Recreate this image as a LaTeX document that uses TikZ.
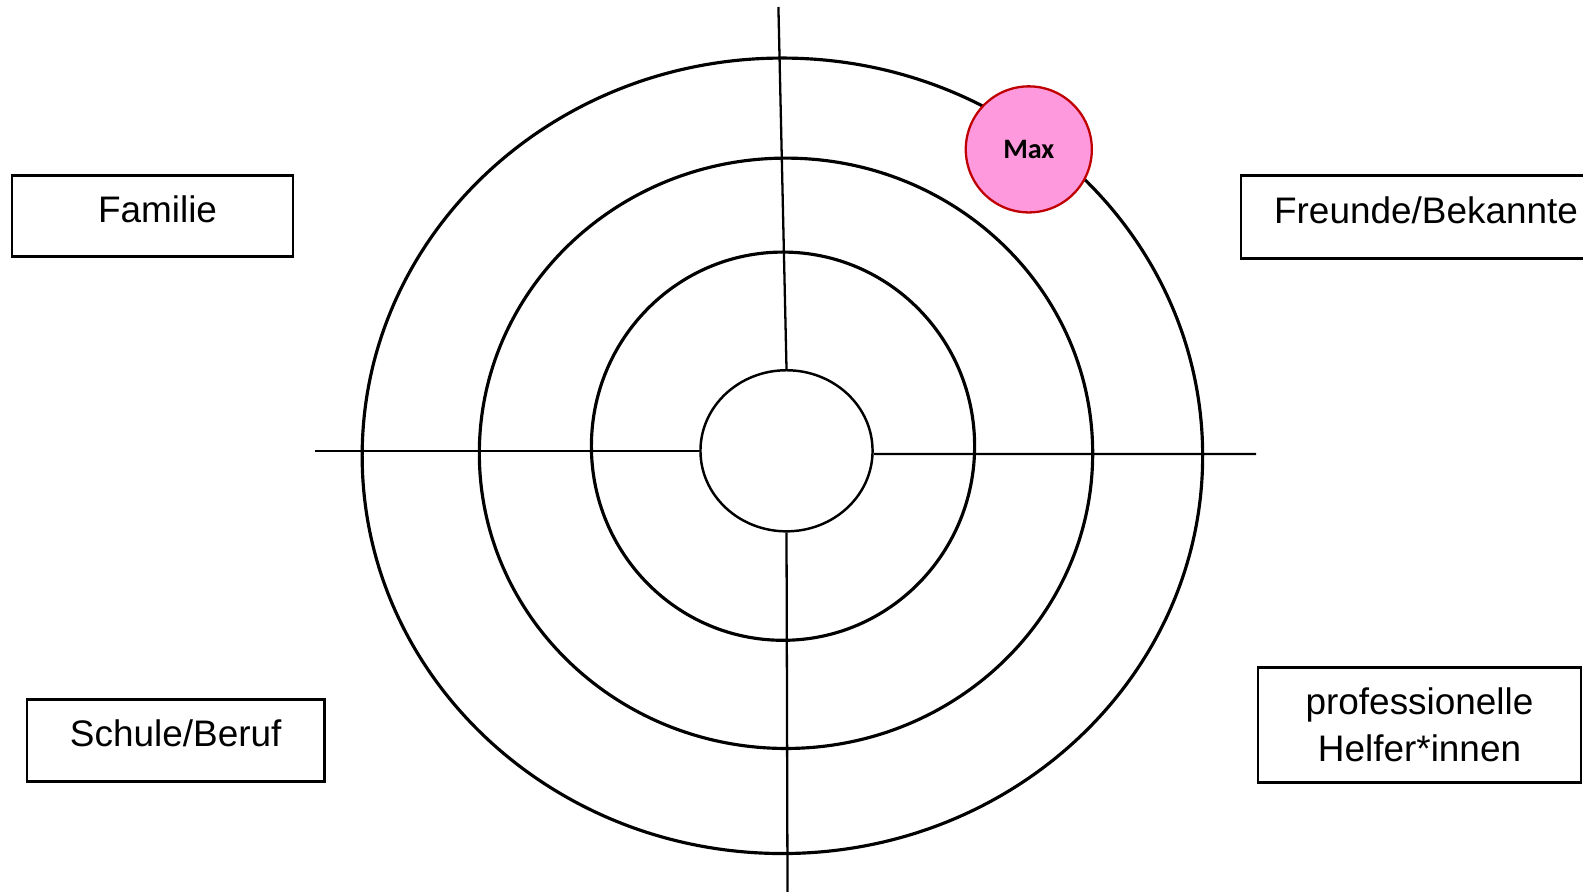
\documentclass[tikz,border=0pt]{standalone}
\usepackage{fontspec}
\setmainfont{Liberation Sans}
\newfontfamily\maxfont{Carlito}
\usetikzlibrary{shapes.geometric, positioning}
\definecolor{maxpink}{RGB}{255, 153, 221}
\definecolor{maxred}{RGB}{192, 0, 0}

\begin{document}
\begin{tikzpicture}[x=0.01cm, y=-0.01cm,
    ring/.style={ellipse, draw, line width=0.9pt, inner sep=0pt},
    tag/.style={rectangle, draw, line width=0.7pt, inner sep=0pt, align=center, font=\fontsize{10.5}{13.5}\selectfont},
    oneline/.style={tag, text height=0.30cm, text depth=0.175cm},
    axis/.style={draw, line width=0.65pt},
    person/.style={circle, draw=maxred, fill=maxpink, line width=0.65pt, minimum size=1.26cm, inner sep=0pt, font=\maxfont\bfseries\fontsize{8}{9}\selectfont}]

    \useasboundingbox (0,0) rectangle (1583,892);

    \node [ring, minimum width=8.40cm, minimum height=7.95cm] (outer) at (782.4,455.8) {};
    \node [ring, minimum width=6.13cm, minimum height=5.90cm] (second) at (786.0,453.3) {};
    \node [ring, minimum width=3.83cm, minimum height=3.88cm] (third) at (783.0,446.2) {};
    \node [ring, line width=0.7pt, minimum width=1.72cm, minimum height=1.61cm] (core) at (786.5,450.8) {};

    \coordinate (topend) at (778.4,7);
    \coordinate (bottomend) at (787.5,892);
    \coordinate (leftend) at (315,450.8);
    \coordinate (rightend) at (1256,454.0);

    \path [axis] (core.north) -- (topend);
    \path [axis] (core.south) -- (bottomend);
    \path [axis] (core.west) -- (leftend);
    \path [axis] ([yshift=-0.032cm]core.east) -- (rightend);

    \node [person] (max) at (1028.8,149.4) {Max};

    \node [oneline, minimum width=2.81cm, minimum height=0.81cm] (familie) at (152.5,216.0) {\hspace{0.1cm}Familie};
    \node [oneline, minimum width=3.70cm, minimum height=0.83cm] (freunde) at (1426.0,217.1) {Freunde/Bekannte};
    \node [oneline, minimum width=2.97cm, minimum height=0.82cm] (schule) at (175.7,740.5) {Schule/Beruf};
    \node [tag, minimum width=3.23cm, minimum height=1.15cm] (helfer) at (1419.5,724.9) {professionelle\\Helfer*innen};
\end{tikzpicture}
\end{document}
